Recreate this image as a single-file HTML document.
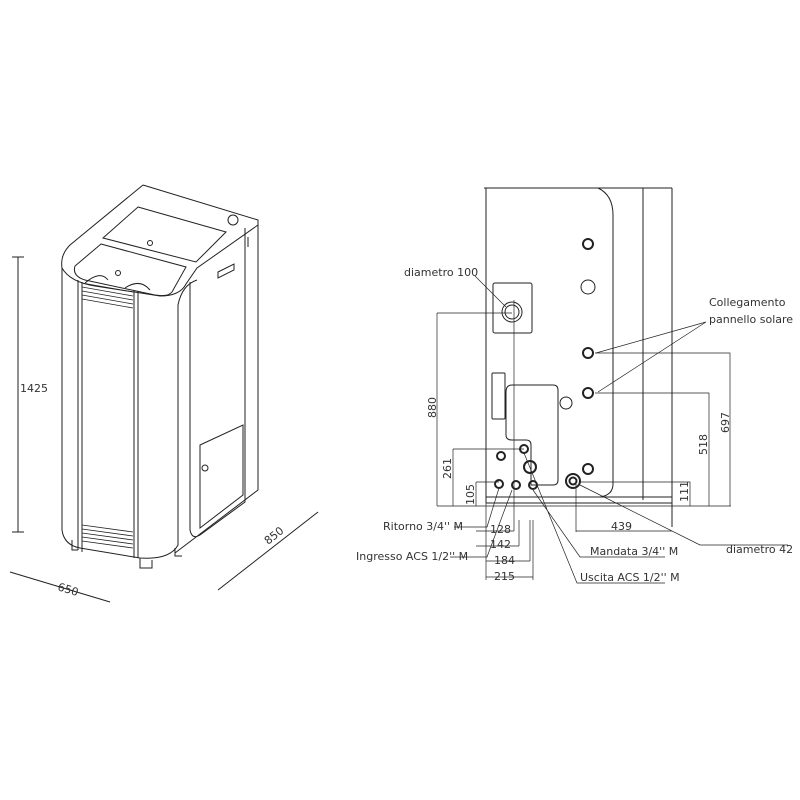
<!DOCTYPE html>
<html><head><style>
html,body{margin:0;padding:0;background:#fff;}
svg{display:block;}
text{font-family:"DejaVu Sans","Liberation Sans",sans-serif;font-size:11px;fill:#333;}
</style></head><body>
<svg width="800" height="800" viewBox="0 0 800 800" xmlns="http://www.w3.org/2000/svg">
<g fill="none" stroke="#222" stroke-width="1">
<!-- LEFT STOVE -->
<path d="M143,185 L258,220 L258,490 L175,553"/>
<path d="M143,185 L70,245 Q60,255 62,268 L62,530 Q64,545 80,548 L140,558 Q170,560 178,545 L178,305 Q182,285 197,280"/>
<path d="M62,268 Q70,282 95,286 L160,296 Q180,296 186,284 L197,268 L258,225"/>
<path d="M138,207 L226,232 L196,262 L103,238 Z"/>
<path d="M101,244 L186,267 L172,292 Q168,297 155,295 L85,280 Q72,276 75,266 Z"/>
<path d="M78,280 L78,550 M82,282 L82,552 M134,290 L134,558 M138,291 L138,558"/>
<path d="M190,282 L190,530 Q192,540 200,535 L245,502 L245,228"/>
<path d="M200,445 L243,425 L243,495 L200,528 Z"/>
<circle cx="205" cy="468" r="3"/>
<circle cx="233" cy="220" r="5"/>
<circle cx="150" cy="243" r="2.5"/>
<circle cx="118" cy="273" r="2.5"/>
<path d="M85,283 Q100,270 108,280 M125,288 Q140,278 150,290"/>
<path d="M218,272 L234,264 L234,270 L218,278 Z"/>
<path d="M248,237 L248,247"/>
<g stroke-width="0.8">
<path d="M82,283 L133,292 M82,287 L133,296 M82,291 L133,300 M82,295 L133,304 M82,299 L133,308"/>
<path d="M82,525 L133,532 M82,529 L133,536 M82,533 L133,540 M82,537 L133,544 M82,541 L133,548"/>
</g>
<path d="M72,540 L72,550 L78,550 M140,558 L140,568 L152,568 L152,560 M175,548 L175,556 L182,556"/>
<!-- dims left -->
<path d="M18,257 L18,532 M12,257 L24,257 M12,532 L24,532"/>
<path d="M10,572 L110,602"/>
<path d="M218,590 L318,512"/>
<!-- RIGHT DIAGRAM -->
<path d="M484,188 L672,188 M486,188 L486,500 M643,188 L643,500 M672,188 L672,527"/>
<path d="M598,188 Q613,195 613,215 L613,484 Q613,495 600,497"/>
<path d="M486,497 L672,497 M486,503 L672,503 M486,497 L486,503"/>
<rect x="493" y="283" width="39" height="50" rx="2"/>
<circle cx="512" cy="312" r="10"/><circle cx="512" cy="312" r="7"/>
<rect x="492" y="373" width="13" height="46" rx="1"/>
<path d="M506,392 Q506,385 512,385 L553,385 Q558,385 558,390 L558,480 Q558,485 553,485 L531,485 L531,445 Q531,440 526,440 L512,440 Q506,440 506,435 Z"/>
<circle cx="566" cy="403" r="6"/>
<circle cx="588" cy="287" r="7"/>
<g stroke-width="2">
<circle cx="588" cy="244" r="5"/><circle cx="588" cy="353" r="5"/><circle cx="588" cy="393" r="5"/><circle cx="588" cy="469" r="5"/>
<circle cx="573" cy="481" r="7"/><circle cx="573" cy="481" r="3.5"/>
<circle cx="501" cy="456" r="4"/><circle cx="524" cy="449" r="4"/><circle cx="530" cy="467" r="6"/>
<circle cx="499" cy="484" r="4"/><circle cx="516" cy="485" r="4"/><circle cx="533" cy="485" r="4"/>
</g>
<!-- dims right -->
<g stroke-width="0.7">
<path d="M437,313 L512,313 M437,313 L437,506 M453,449 L524,449 M453,449 L453,506 M476,482 L499,482 M476,482 L476,506"/>
<path d="M437,506 L731,506"/>
<path d="M595,353 L730,353 L730,506 M595,393 L709,393 L709,506 M580,482 L690,482 L690,506"/>
<path d="M514,300 L514,520"/>
<path d="M486,503 L486,580 M514,520 L514,531 M519,520 L519,546 M530,520 L530,561 M533,520 L533,580 M576,482 L576,532"/>
<path d="M476,531 L514,531 M476,546 L519,546 M486,561 L530,561 M486,577 L533,577 M576,531 L672,531"/>
<path d="M475,276 L506,307 M706,322 L596,353 M706,322 L598,392"/>
<path d="M454,527 L487,527 L499,488 M450,557 L487,557 L512,490 M533,490 L580,557 L665,557 M524,453 L577,583 L665,583 M580,485 L700,545 L788,545"/>
</g>
</g>
<text x="20" y="392">1425</text>
<text x="57" y="590" transform="rotate(17 57 590)">650</text>
<text x="268" y="545" transform="rotate(-38 268 545)">850</text>
<text x="404" y="276">diametro 100</text>
<text x="709" y="306">Collegamento</text>
<text x="709" y="323">pannello solare</text>
<text x="436" y="418" transform="rotate(-90 436 418)">880</text>
<text x="451" y="479" transform="rotate(-90 451 479)">261</text>
<text x="474" y="505" transform="rotate(-90 474 505)">105</text>
<text x="707" y="455" transform="rotate(-90 707 455)">518</text>
<text x="729" y="433" transform="rotate(-90 729 433)">697</text>
<text x="688" y="502" transform="rotate(-90 688 502)">111</text>
<text x="383" y="530">Ritorno 3/4'' M</text>
<text x="356" y="560">Ingresso ACS 1/2'' M</text>
<text x="490" y="533">128</text>
<text x="490" y="548">142</text>
<text x="494" y="564">184</text>
<text x="494" y="580">215</text>
<text x="611" y="530">439</text>
<text x="590" y="555">Mandata 3/4'' M</text>
<text x="580" y="581">Uscita ACS 1/2'' M</text>
<text x="726" y="553">diametro 42</text>
</svg>
</body></html>
